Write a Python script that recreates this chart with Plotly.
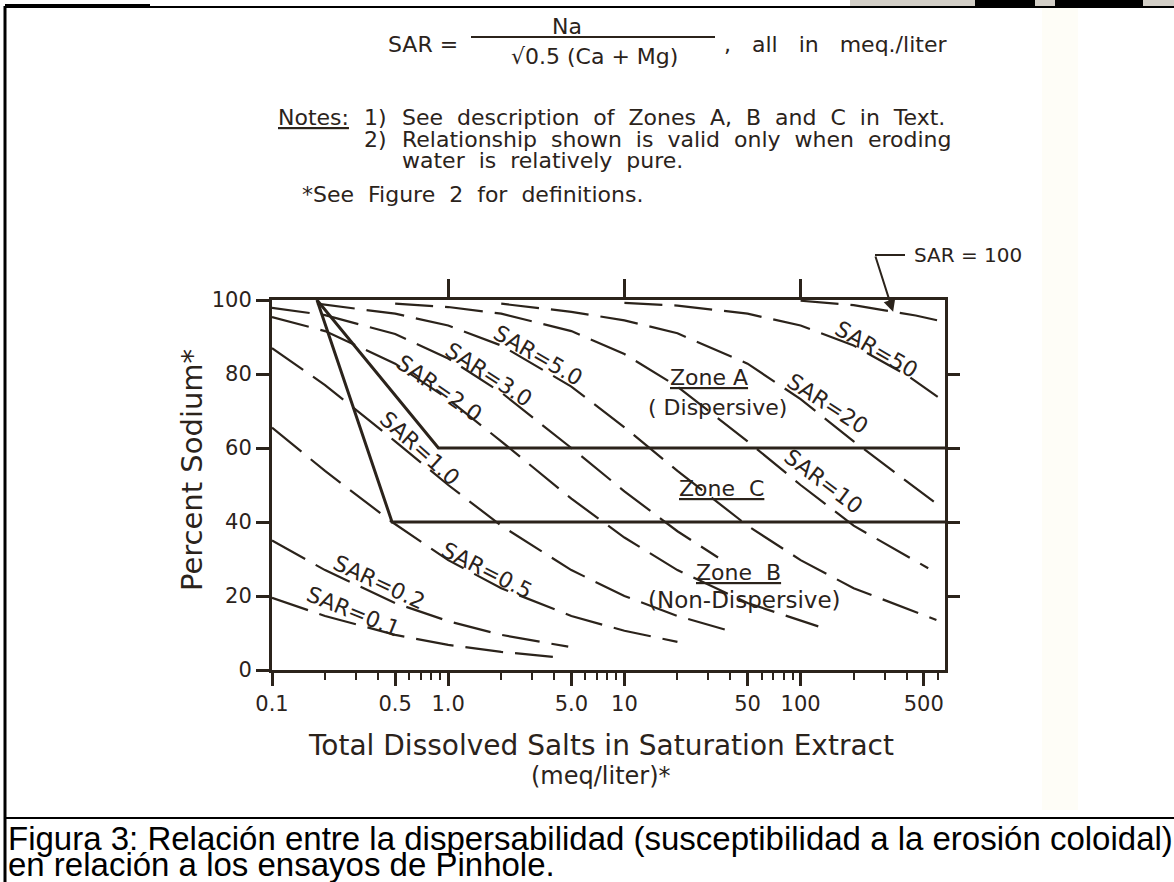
import math
import plotly.graph_objects as go

W, H = 1174, 882
PL, PR, PT, PB = 272, 945, 300, 670
INK = "#2b231b"
FONT = "DejaVu Sans"

# ---------------- data ----------------
x_tick_vals = [0.1, 0.5, 1, 5, 10, 50, 100, 500]
x_tick_text = ["0.1", "0.5", "1.0", "5.0", "10", "50", "100", "500"]
x_minor_vals = [0.2, 0.3, 0.4, 0.6, 0.7, 0.8, 0.9, 2, 3, 4, 6, 7, 8, 9,
                20, 30, 40, 60, 70, 80, 90, 200, 300, 400, 600]
y_tick_vals = [0, 20, 40, 60, 80, 100]
x_top_ticks = [1, 10, 100]
y_right_ticks = [20, 40, 60, 80]

sar_01_tds = [0.1, 0.2, 0.5, 1.0, 2.0, 4.5]
sar_01_pct = [19.5, 14.6, 9.5, 6.8, 4.9, 3.3]
sar_02_tds = [0.1, 0.2, 0.5, 1.0, 2.0, 4.8]
sar_02_pct = [35.0, 27.0, 18.1, 13.2, 9.5, 6.3]
sar_05_tds = [0.1, 0.2, 0.48, 1.0, 2.0, 5.0, 10, 20]
sar_05_pct = [65.5, 53.8, 40.0, 29.7, 22.1, 14.6, 10.6, 7.6]
sar_1_tds = [0.1, 0.2, 0.5, 1.0, 2.0, 5.0, 10, 20, 38]
sar_1_pct = [87.0, 77.0, 61.8, 50.0, 39.0, 27.0, 20.0, 14.6, 10.8]
sar_2_tds = [0.1, 0.2, 0.5, 1.0, 2.0, 5.0, 10, 20, 50, 126]
sar_2_pct = [95.4, 91.6, 82.8, 73.2, 61.8, 46.3, 35.8, 27.0, 18.1, 11.8]
sar_3_tds = [0.1, 0.2, 0.5, 1.0, 2.0, 5.0, 10, 20, 34]
sar_3_pct = [97.9, 95.9, 90.8, 84.2, 75.0, 60.0, 48.3, 37.5, 30.4]
sar_5_tds = [0.18, 0.5, 1.0, 2.0, 5.0, 10, 20, 50, 100, 200, 590]
sar_5_pct = [99.0, 96.3, 93.1, 87.7, 76.6, 65.6, 53.8, 39.0, 29.7, 22.1, 13.5]
sar_10_tds = [0.5, 1.0, 2.0, 5.0, 10, 20, 50, 100, 200, 530]
sar_10_pct = [99.0, 98.1, 96.3, 91.6, 85.4, 76.6, 61.8, 50.0, 39.0, 27.5]
sar_20_tds = [2.0, 5.0, 10, 20, 50, 100, 200, 570]
sar_20_pct = [99.0, 96.8, 94.5, 91.0, 82.8, 73.2, 61.8, 45.5]
sar_50_tds = [10, 20, 50, 100, 200, 400, 600]
sar_50_pct = [99.2, 98.5, 96.3, 93.1, 87.7, 79.7, 73.8]
sar_100_tds = [100, 200, 300, 450, 640]
sar_100_pct = [99.8, 98.6, 97.2, 95.8, 94.2]

zone_a_tds = [0.18, 0.88, 660]
zone_a_pct = [100, 60, 60]
zone_b_tds = [0.18, 0.48, 660]
zone_b_pct = [100, 40, 40]

# label text, position (log10 TDS, %Na), angle
sar_label_text = ["SAR=5.0", "SAR=3.0", "SAR=2.0", "SAR=1.0", "SAR=0.5",
                  "SAR=0.2", "SAR=0.1", "SAR=50", "SAR=20", "SAR=10"]
sar_label_logx = [0.51, 0.23, -0.05, -0.16, 0.22, -0.39, -0.54, 2.43, 2.15, 2.13]
sar_label_pct = [85.0, 80.0, 76.0, 60.0, 27.0, 23.7, 15.7, 86.7, 72.0, 51.0]
sar_label_angle = [30, 33, 35, 42, 27, 25, 22, 30, 33, 37]

# ---------------- figure ----------------
def fx(px):
    return (px - PL) / (PR - PL)


def fy(py):
    return (PB - py) / (PB - PT)


fig = go.Figure()

dash_line = dict(color=INK, width=2.2, dash="38px,12px")
curves = [(sar_01_tds, sar_01_pct), (sar_02_tds, sar_02_pct), (sar_05_tds, sar_05_pct),
          (sar_1_tds, sar_1_pct), (sar_2_tds, sar_2_pct), (sar_3_tds, sar_3_pct),
          (sar_5_tds, sar_5_pct), (sar_10_tds, sar_10_pct), (sar_20_tds, sar_20_pct),
          (sar_50_tds, sar_50_pct), (sar_100_tds, sar_100_pct)]
for xs, ys in curves:
    fig.add_trace(go.Scatter(x=xs, y=ys, mode="lines", line=dash_line,
                             hoverinfo="skip", showlegend=False))

for xs, ys in [(zone_a_tds, zone_a_pct), (zone_b_tds, zone_b_pct)]:
    fig.add_trace(go.Scatter(x=xs, y=ys, mode="lines",
                             line=dict(color=INK, width=3),
                             hoverinfo="skip", showlegend=False))

fig.add_trace(go.Scatter(x=[1], y=[50], xaxis="x2", yaxis="y2", mode="markers",
                         marker=dict(opacity=0), hoverinfo="skip", showlegend=False))

tick_font = dict(family=FONT, size=21, color=INK)
x_range = [-1, math.log10(660)]

fig.update_layout(
    width=W, height=H,
    margin=dict(l=PL, r=W - PR, t=PT, b=H - PB, pad=0),
    paper_bgcolor="white", plot_bgcolor="white",
    xaxis=dict(type="log", range=x_range, tickmode="array",
               tickvals=x_tick_vals, ticktext=x_tick_text,
               ticks="outside", ticklen=13, tickwidth=2.5, tickcolor=INK,
               showline=True, linecolor=INK, linewidth=3,
               showgrid=False, zeroline=False, tickfont=tick_font,
               minor=dict(tickvals=x_minor_vals, ticks="outside", ticklen=7,
                          tickwidth=2, tickcolor=INK, showgrid=False)),
    xaxis2=dict(type="log", range=x_range, overlaying="x", side="top",
                tickmode="array", tickvals=x_top_ticks, ticks="outside",
                ticklen=18, tickwidth=2.5, tickcolor=INK, showticklabels=False,
                showline=True, linecolor=INK, linewidth=3, showgrid=False,
                zeroline=False),
    yaxis=dict(range=[0, 100], tickmode="array", tickvals=y_tick_vals,
               ticks="outside", ticklen=13, tickwidth=2.5, tickcolor=INK,
               showline=True, linecolor=INK, linewidth=3, showgrid=False,
               zeroline=False, tickfont=tick_font),
    yaxis2=dict(range=[0, 100], overlaying="y", side="right", tickmode="array",
                tickvals=y_right_ticks, ticks="outside", ticklen=12,
                tickwidth=2.5, tickcolor=INK, showticklabels=False,
                showline=True, linecolor=INK, linewidth=3, showgrid=False,
                zeroline=False),
)


def paper_text(px, py, text, font, xanchor="center", yanchor="middle", angle=0):
    return dict(x=fx(px), y=fy(py), xref="paper", yref="paper", text=text,
                showarrow=False, xanchor=xanchor, yanchor=yanchor,
                textangle=angle, font=font)


ann = []
label_font = dict(family=FONT, size=22, color=INK)
for t, lx, py, ang in zip(sar_label_text, sar_label_logx, sar_label_pct, sar_label_angle):
    ann.append(dict(x=lx, y=py, xref="x", yref="y", text=t, showarrow=False,
                    xanchor="center", yanchor="middle",
                    textangle=ang, font=label_font))

for lx, py, t, sz in [(1.48, 79, "<u>Zone A</u>", 22), (1.53, 71, "( Dispersive)", 22),
                      (1.55, 49, "<u>Zone  C</u>", 22), (1.65, 26.4, "<u>Zone  B</u>", 22),
                      (1.68, 18.8, "(Non-Dispersive)", 23)]:
    ann.append(dict(x=lx, y=py, xref="x", yref="y", text=t, showarrow=False,
                    xanchor="center", yanchor="middle",
                    font=dict(family=FONT, size=sz, color=INK)))

# SAR = 100 pointer
ann.append(paper_text(912, 255, "SAR = 100", dict(family=FONT, size=20, color=INK),
                      xanchor="left"))
tip_x = math.log10(335)
tip_y = 96.8
ann.append(dict(x=tip_x, y=tip_y, xref="x", yref="y", text="",
                showarrow=True, arrowhead=2, arrowsize=1.2, arrowwidth=2,
                arrowcolor=INK, ax=875 - (PL + 176.2 * (tip_x + 1)),
                ay=255 - (PB - 3.7 * tip_y)))

# axis titles
ann += [
    paper_text(601, 745, "Total Dissolved Salts in Saturation Extract",
               dict(family=FONT, size=28, color=INK)),
    paper_text(601, 776, "(meq/liter)*", dict(family=FONT, size=24, color=INK)),
    paper_text(192, 470, "Percent Sodium*", dict(family=FONT, size=29, color=INK), angle=-90),
]

# header notes
note_font = dict(family=FONT, size=22, color=INK)
ann += [
    paper_text(423, 45, "SAR =", note_font),
    paper_text(567, 26, "Na", note_font),
    paper_text(594, 56, "\u221a0.5 (Ca + Mg)", note_font),
    paper_text(722, 45, ",   all   in   meq./liter", note_font, xanchor="left"),
    paper_text(276, 118, "<u>Notes:</u>", note_font, xanchor="left"),
    paper_text(362, 118, "1)", note_font, xanchor="left"),
    paper_text(400, 118, "See  description  of  Zones  A,  B  and  C  in  Text.", note_font,
               xanchor="left"),
    paper_text(362, 139, "2)", note_font, xanchor="left"),
    paper_text(400, 139, "Relationship  shown  is  valid  only  when  eroding", note_font,
               xanchor="left"),
    paper_text(400, 160, "water  is  relatively  pure.", note_font, xanchor="left"),
    paper_text(300, 194, "*See  Figure  2  for  definitions.", dict(family=FONT, size=22, color=INK),
               xanchor="left"),
]

# caption
cap_font = dict(family="Liberation Sans", size=33, color="black")
ann += [
    paper_text(6, 838, "Figura 3: Relación entre la dispersabilidad (susceptibilidad a la erosión coloidal)",
               cap_font, xanchor="left"),
    paper_text(6, 864, "en relación a los ensayos de Pinhole.", cap_font, xanchor="left"),
]
fig.update_layout(annotations=ann)

# decorations (page frame, fraction bar, leader line)
shapes = [
    dict(type="rect", xref="paper", yref="paper", x0=fx(1042), x1=fx(1078), y0=fy(8), y1=fy(810),
         line=dict(width=0), fillcolor="rgba(250,238,190,0.12)", layer="below"),
    dict(type="line", xref="paper", yref="paper", x0=fx(471), x1=fx(715), y0=fy(37), y1=fy(37),
         line=dict(color=INK, width=2)),
    dict(type="line", xref="paper", yref="paper", x0=fx(875), x1=fx(905), y0=fy(255), y1=fy(255),
         line=dict(color=INK, width=2)),
    dict(type="line", xref="paper", yref="paper", x0=fx(5), x1=fx(5), y0=fy(6), y1=fy(882),
         line=dict(color="black", width=3)),
    dict(type="line", xref="paper", yref="paper", x0=fx(5), x1=fx(150), y0=fy(6), y1=fy(6),
         line=dict(color="black", width=4)),
    dict(type="line", xref="paper", yref="paper", x0=fx(150), x1=fx(1174), y0=fy(7), y1=fy(7),
         line=dict(color="black", width=2)),
    dict(type="line", xref="paper", yref="paper", x0=fx(5), x1=fx(1174), y0=fy(818), y1=fy(818),
         line=dict(color="black", width=2)),
    dict(type="rect", xref="paper", yref="paper", x0=fx(850), x1=fx(1174), y0=fy(0), y1=fy(6),
         line=dict(width=0), fillcolor="#d3cfc7"),
    dict(type="rect", xref="paper", yref="paper", x0=fx(975), x1=fx(1035), y0=fy(0), y1=fy(6),
         line=dict(width=0), fillcolor="black"),
    dict(type="rect", xref="paper", yref="paper", x0=fx(1055), x1=fx(1143), y0=fy(0), y1=fy(6),
         line=dict(width=0), fillcolor="black"),
]
fig.update_layout(shapes=shapes)

fig.write_html("out.html", config={"displayModeBar": False},
               post_script="document.body.style.margin='0';document.body.style.overflow='hidden';")
